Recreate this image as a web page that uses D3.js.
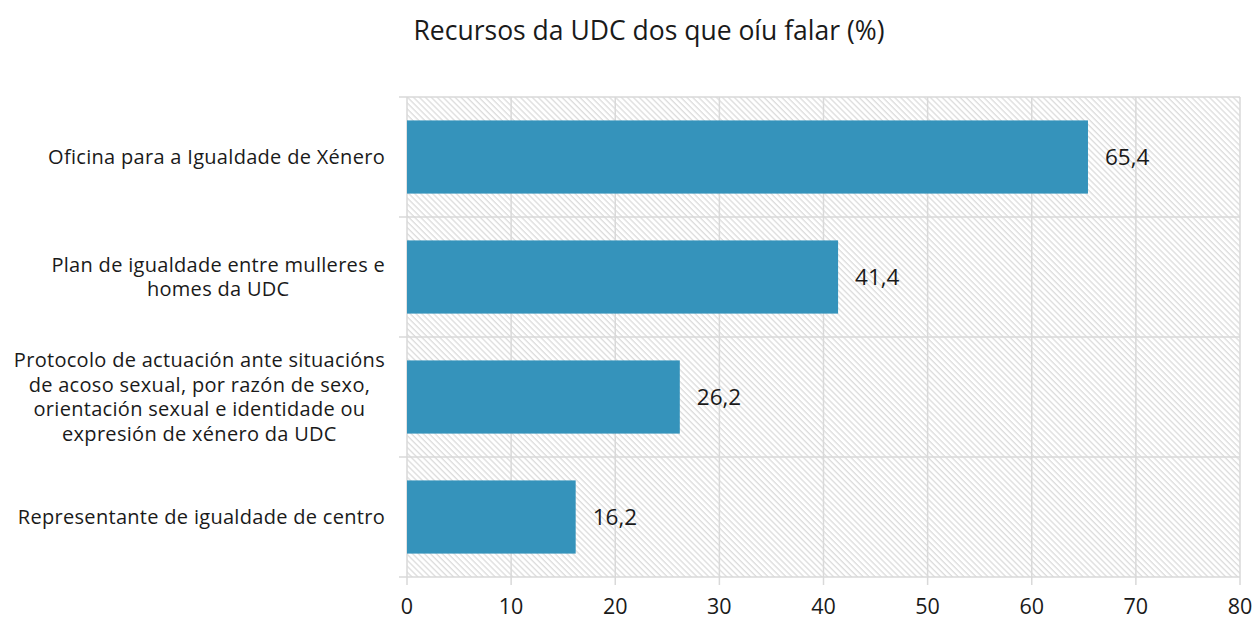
<!DOCTYPE html>
<html>
<head>
<meta charset="utf-8">
<script src="https://cdn.jsdelivr.net/npm/d3@7"></script>
<style>
  body { margin: 0; background: #fff; }
  text { font-family: "Open Sans", Lato, sans-serif; fill: #1a1a1a; }
</style>
</head>
<body>
<div id="chart"></div>
<script>
// datos
const categories = [
    ['Oficina para a Igualdade de Xénero'],
    ['Plan de igualdade entre mulleres e', 'homes da UDC'],
    ['Protocolo de actuación ante situacións', 'de acoso sexual, por razón de sexo,', 'orientación sexual e identidade ou', 'expresión de xénero da UDC'],
    ['Representante de igualdade de centro']
];
const values = [65.4, 41.4, 26.2, 16.2];
const xTicks = [0, 10, 20, 30, 40, 50, 60, 70, 80];
const title = 'Recursos da UDC dos que oíu falar (%)';

const width = 1258, height = 621;
const margin = { top: 97, right: 18, bottom: 44, left: 407 };

const svg = d3.select('#chart')
    .append('svg')
    .attr('width', width)
    .attr('height', height);

// trama diagonal do fondo
const defs = svg.append('defs');
const pat = defs.append('pattern')
    .attr('id', 'hatch')
    .attr('patternUnits', 'userSpaceOnUse')
    .attr('width', 4.2)
    .attr('height', 4.2)
    .attr('patternTransform', 'rotate(-45)');
pat.append('rect').attr('width', 4.2).attr('height', 4.2).attr('fill', '#fff');
pat.append('line')
    .attr('x1', 1).attr('y1', 0).attr('x2', 1).attr('y2', 4.2)
    .attr('stroke', '#dcdcdc')
    .attr('stroke-width', 1.3);

const x = d3.scaleLinear()
    .domain([0, 80])
    .range([margin.left, width - margin.right]);

const y = d3.scaleBand()
    .domain(d3.range(categories.length))
    .range([margin.top, height - margin.bottom])
    .paddingInner(0.39)
    .paddingOuter(0.195);

const band = (height - margin.bottom - margin.top) / categories.length;

svg.append('rect')
    .attr('x', x(0))
    .attr('y', margin.top)
    .attr('width', x(80) - x(0))
    .attr('height', height - margin.bottom - margin.top)
    .attr('fill', 'url(#hatch)');

// grella vertical
svg.append('g')
    .selectAll('line')
    .data(xTicks)
    .enter()
    .append('line')
    .attr('x1', d => x(d))
    .attr('x2', d => x(d))
    .attr('y1', margin.top)
    .attr('y2', height - margin.bottom + 8)
    .attr('stroke', '#d9d9d9')
    .attr('stroke-width', 1.5);

// grella horizontal (límites de categorías)
svg.append('g')
    .selectAll('line')
    .data(d3.range(categories.length + 1))
    .enter()
    .append('line')
    .attr('x1', x(0) - 8)
    .attr('x2', x(80))
    .attr('y1', i => margin.top + i * band)
    .attr('y2', i => margin.top + i * band)
    .attr('stroke', '#d9d9d9')
    .attr('stroke-width', 1.5);

// barras
svg.append('g')
    .selectAll('rect')
    .data(values)
    .enter()
    .append('rect')
    .attr('x', x(0))
    .attr('y', (d, i) => y(i))
    .attr('width', d => x(d) - x(0))
    .attr('height', y.bandwidth())
    .attr('fill', '#3593bb');

// etiquetas de valor
svg.append('g')
    .selectAll('text')
    .data(values)
    .enter()
    .append('text')
    .attr('x', d => x(d) + 17)
    .attr('y', (d, i) => y(i) + y.bandwidth() / 2)
    .attr('dy', '0.35em')
    .attr('font-size', '22.5px')
    .text(d => d.toFixed(1).replace('.', ','));

// etiquetas de categoría: bloque aliñado á dereita, liñas centradas
const lineH = 24.5;
const labelRight = 385;
const catG = svg.append('g')
    .selectAll('text')
    .data(categories)
    .enter()
    .append('text')
    .attr('text-anchor', 'middle')
    .attr('font-size', '20px')
    .attr('letter-spacing', '0.3px')
    .attr('y', (d, i) => y(i) + y.bandwidth() / 2 - (d.length - 1) * lineH / 2);

catG.each(function(d) {
    const t = d3.select(this);
    const spans = d.map((line, k) => t.append('tspan')
        .attr('dy', k === 0 ? '0.35em' : lineH)
        .text(line));
    const maxW = d3.max(spans, s => s.node().getComputedTextLength());
    spans.forEach(s => s.attr('x', labelRight - maxW / 2));
});

// ticks eixo x
svg.append('g')
    .selectAll('text')
    .data(xTicks)
    .enter()
    .append('text')
    .attr('x', d => x(d))
    .attr('y', height - 7)
    .attr('text-anchor', 'middle')
    .attr('font-size', '21.5px')
    .text(d => d);

// título
svg.append('text')
    .attr('x', 649)
    .attr('y', 40)
    .attr('text-anchor', 'middle')
    .attr('font-size', '26.5px')
    .text(title);
</script>
</body>
</html>
